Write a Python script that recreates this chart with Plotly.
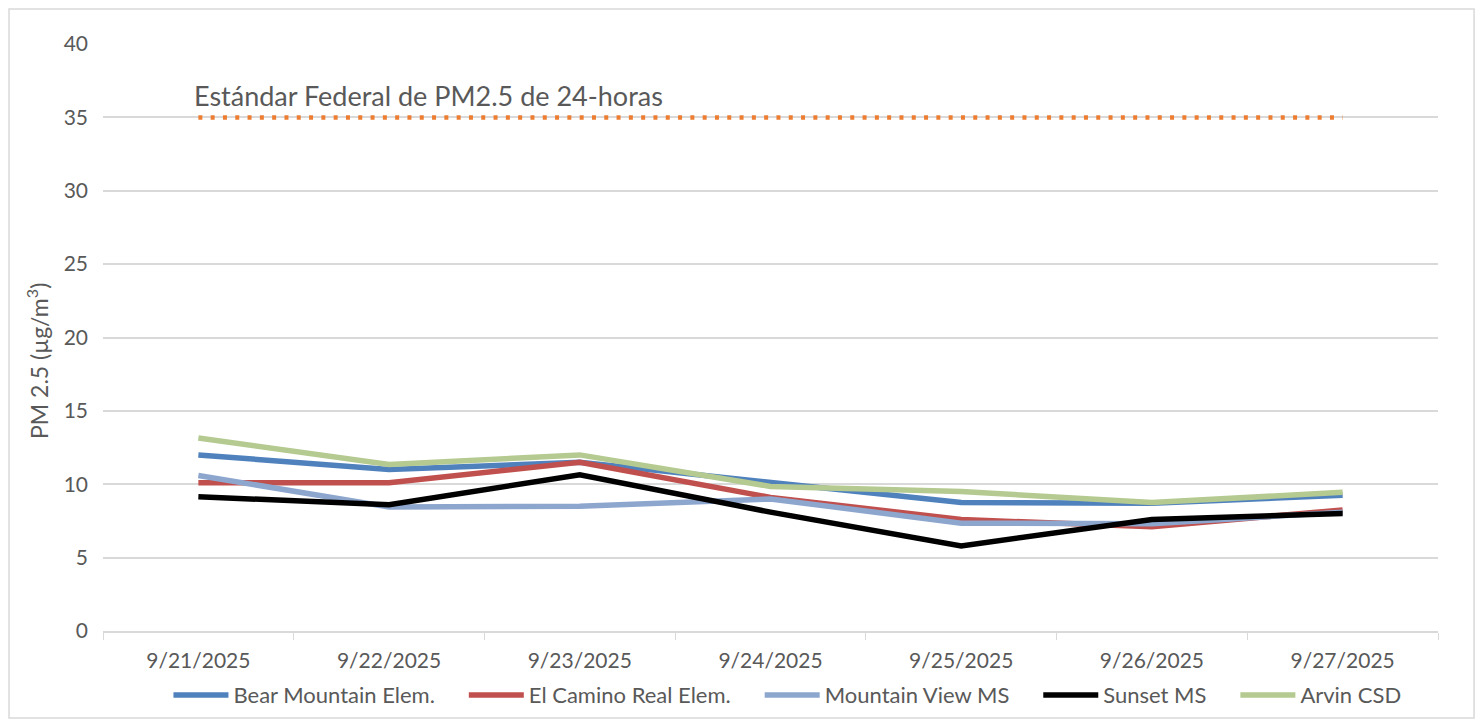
import plotly.graph_objects as go

dates = ["9/21/2025", "9/22/2025", "9/23/2025", "9/24/2025", "9/25/2025", "9/26/2025", "9/27/2025"]
bear_mountain = [12.0, 11.0, 11.5, 10.1, 8.75, 8.7, 9.25]
el_camino = [10.1, 10.1, 11.5, 9.1, 7.6, 7.1, 8.25]
mountain_view = [10.6, 8.45, 8.5, 9.0, 7.35, 7.3, 8.1]
sunset = [9.15, 8.6, 10.65, 8.1, 5.8, 7.6, 8.0]
arvin = [13.15, 11.35, 12.0, 9.85, 9.5, 8.75, 9.45]
standard = [35, 35, 35, 35, 35, 35, 35]
standard_label = "Estándar Federal de PM2.5 de 24-horas"
y_title = "PM 2.5 (µg/m<sup>3</sup>)"

series = [
    ("Bear Mountain Elem.", bear_mountain, "#4F81BD"),
    ("El Camino Real Elem.", el_camino, "#C0504D"),
    ("Mountain View MS", mountain_view, "#8DA6CE"),
    ("Sunset MS", sunset, "#000000"),
    ("Arvin CSD", arvin, "#B4CA90"),
]

FONT = "Lato, Liberation Sans, sans-serif"
GRAY = "#595959"
PAD = "&nbsp;" * 4 + "&#8202;"

fig = go.Figure()
fig.add_trace(go.Scatter(
    x=dates, y=standard, mode="lines", showlegend=False, name=standard_label,
    line=dict(color="#ED7D31", width=4.5, dash="4px,8.3px"), hoverinfo="skip",
))
for i, (name, vals, color) in enumerate(series):
    fig.add_trace(go.Scatter(
        x=dates, y=vals, mode="lines", name=name + (PAD if i < len(series) - 1 else ""),
        line=dict(color=color, width=5.5),
    ))

fig.add_annotation(
    x=0, xref="x", y=35, yref="y", text=standard_label, showarrow=False,
    xanchor="left", yanchor="bottom", xshift=-6, yshift=3,
    font=dict(family=FONT, size=27, color=GRAY),
)
fig.add_annotation(
    x=0, xref="paper", y=0.46, yref="paper", text=y_title, showarrow=False,
    textangle=-90, xanchor="center", yanchor="middle", xshift=-65,
    font=dict(family=FONT, size=23, color=GRAY),
)

# outer chart border
fig.add_shape(type="rect", xref="paper", yref="paper",
              x0=-0.0704, x1=1.027, y0=-0.148, y1=1.0596,
              line=dict(color="#D9D9D9", width=1.5), layer="below")

fig.update_layout(
    width=1468, height=712,
    margin=dict(l=95, r=38, t=36, b=89, autoexpand=False),
    paper_bgcolor="white", plot_bgcolor="white",
    font=dict(family=FONT, size=21, color=GRAY),
    legend=dict(orientation="h", x=0.5127, xanchor="center",
                yref="container", y=0.035, yanchor="middle",
                font=dict(family=FONT, size=22, color=GRAY), itemwidth=55,
                traceorder="normal"),
    xaxis=dict(
        type="category", showgrid=False, showline=True, linecolor="#D9D9D9", linewidth=1.5,
        ticks="outside", tickson="boundaries", ticklen=7, tickcolor="#D9D9D9",
        ticklabelstandoff=10,
        tickfont=dict(family=FONT, size=21, color=GRAY), range=[-0.5, 6.5],
    ),
    yaxis=dict(
        range=[0, 40], dtick=5, showgrid=True, gridcolor="#D9D9D9", gridwidth=1.5,
        zeroline=False, ticks="", ticklabelstandoff=14,
        tickfont=dict(family=FONT, size=21, color=GRAY),
    ),
)

fig.write_html("out.html")
